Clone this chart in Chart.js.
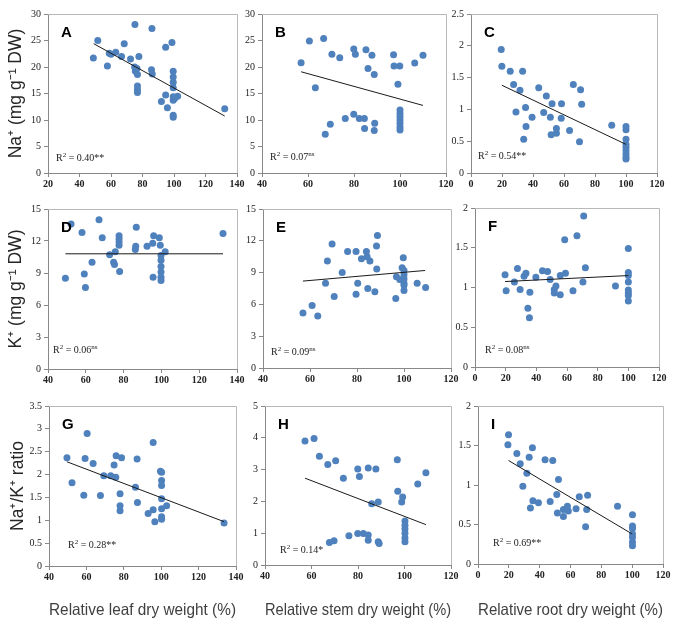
<!DOCTYPE html>
<html>
<head>
<meta charset="utf-8">
<script src="https://cdn.jsdelivr.net/npm/chart.js@4.4.1/dist/chart.umd.min.js"></script>
<style>
  html, body { margin: 0; padding: 0; background: #fff; }
  #wrap { position: relative; width: 683px; height: 627px; overflow: hidden; }
  #wrap canvas { position: absolute; }
</style>
</head>
<body>
<div id="wrap"></div>
<script>
// Na+ content vs relative dry weight (leaf / stem / root)
const naLeaf = [[48.8,21.7],[51.6,25],[57.7,20.2],[58.9,22.6],[60,22.4],[63,22.8],[66.7,22],[68.4,24.4],[72.4,21.5],[75.2,28],[75,20],[75.5,19.2],[76.5,19.7],[77.7,22],[76.8,18.6],[76.8,16.4],[76.8,15.75],[76.8,15.2],[86,27.25],[85.7,19.5],[86.2,18.7],[92,13.5],[94.7,23.75],[94.7,14.7],[95.8,12.3],[98.7,24.6],[99.5,19.2],[99.5,18.1],[99.5,17.1],[99.5,16.1],[99.5,14.4],[99.5,13.75],[99.5,10.9],[99.5,10.5],[100.5,14.1],[102.3,14.5],[132.2,12.1]];
const naStem = [[57,20.8],[60.6,24.9],[63.2,16.1],[66.8,25.4],[67.5,7.3],[69.7,9.2],[70.4,22.4],[73.8,21.75],[76.2,10.3],[79.9,23.4],[79.9,11.1],[80.6,22.4],[82.3,10.3],[84.5,10.3],[84.6,8.4],[85.2,23.25],[86.1,19.7],[87.8,22.2],[88.8,18.6],[89,9.4],[88.8,8],[97.2,22.3],[97.4,20.2],[99.1,16.75],[99.9,20.2],[100,11.9],[100,11.2],[100,10.6],[100,10],[100,9.4],[100,8.7],[100,8.1],[106.4,20.75],[110,22.2]];
const naRoot = [[19.5,1.94],[19.9,1.68],[25.3,1.6],[27.5,1.39],[29,0.96],[31.6,1.3],[33.3,1.6],[34,0.53],[35.2,1.03],[35.5,0.73],[39.4,0.875],[43.7,1.34],[46.9,0.95],[48.6,1.21],[51.2,0.875],[52.3,1.09],[51.7,0.6],[55.1,0.7],[55.1,0.625],[58.2,0.86],[58.4,1.09],[63.6,0.67],[66,1.39],[70,0.49],[70.7,1.31],[71.4,1.08],[90.8,0.75],[100,0.73],[100,0.68],[100,0.53],[100,0.45],[100,0.4],[100,0.35],[100,0.3],[100,0.25],[100,0.22]];

// K+ content
const kLeaf = [[49.2,8.5],[52.2,13.6],[58,12.8],[59.2,8.9],[59.8,7.65],[63.3,10],[67,14],[68.7,12.3],[72.6,10.7],[74.7,10],[75.2,9.8],[75.6,11],[77.6,12.5],[77.6,12.2],[77.6,11.9],[77.6,11.6],[77.9,9.15],[86.2,11.2],[86.4,11.5],[86.7,13.3],[92.4,11.5],[95.4,11.8],[95.9,12.5],[95.6,8.6],[98.9,12.3],[99.4,11.6],[99.8,10.65],[99.8,10.2],[99.8,9.6],[99.8,9.1],[99.8,8.6],[99.8,8.3],[102,11],[132.6,12.7]];
const kStem = [[57,5.2],[60.9,5.9],[63.3,4.9],[66.6,8],[67.4,10.1],[69.4,11.7],[70.3,6.75],[73.7,9],[76,11],[79.6,11],[79.6,6.95],[80.3,8],[81.9,10.3],[84,11],[84.3,10.5],[84.6,7.5],[85.5,10.1],[87.6,7.2],[88.3,11.5],[88.7,12.5],[88.4,9.35],[96.5,6.55],[96.8,8.6],[98.2,8.35],[99.2,9.45],[99.7,10.4],[100,9.2],[100,8.8],[100,8.4],[100,8],[100,7.8],[100,7.3],[105.6,8],[109.2,7.6]];
const kRoot = [[19.6,1.16],[20.3,0.96],[25.7,1.07],[27.7,1.24],[29.4,0.975],[32,1.14],[33.2,1.18],[34.5,0.74],[35.5,0.62],[35.8,0.94],[39.7,1.13],[44,1.21],[47.3,1.2],[49,1.1],[51.7,0.975],[51.7,0.93],[52.8,1.02],[55.6,1.15],[55.6,0.91],[58.5,1.6],[59,1.18],[63.9,0.96],[66.5,1.65],[70.4,1.07],[70.9,1.9],[72,1.25],[91.6,1.02],[100,1.49],[100,1.19],[100,1.15],[100,1.07],[100,0.97],[100,0.93],[100,0.9],[100,0.83]];

// Na+/K+ ratio
const ratioLeaf = [[49.6,2.37],[52.3,1.82],[58.6,1.55],[59.3,2.35],[60.4,2.9],[63.6,2.24],[67.5,1.54],[69.3,1.975],[73,1.975],[74.8,2.21],[75.9,2.41],[75.7,1.94],[78,1.58],[78,1.32],[78,1.21],[78.8,2.37],[86.25,1.72],[87.1,2.34],[87.3,1.39],[93,1.15],[95.7,1.23],[95.7,2.7],[96.6,0.97],[99.6,2.07],[100.2,2.05],[100.2,1.87],[100.2,1.76],[100.2,1.47],[100.2,1.25],[100.2,1.08],[100.2,1.02],[102.9,1.32],[133.6,0.94]];
const ratioStem = [[57.2,3.9],[61.1,3.98],[63.4,3.42],[67,3.16],[67.7,0.71],[69.7,0.76],[70.4,3.28],[73.7,2.73],[76.1,0.92],[79.9,3.02],[79.9,0.99],[80.6,2.78],[82.3,0.99],[84.4,3.05],[84.4,0.94],[84.4,0.78],[85.9,1.93],[87.7,3.02],[88.7,1.98],[88.7,0.73],[89.1,0.68],[96.9,3.31],[97.1,2.32],[99.2,2.14],[98.8,1.98],[100.2,1.38],[100.2,1.25],[100.2,1.13],[100.2,1],[100.2,0.85],[100.2,0.73],[105.7,2.55],[109.2,2.9]];
const ratioRoot = [[19.4,1.51],[19.8,1.635],[25.2,1.4],[27.4,1.27],[29.1,0.985],[31.7,1.15],[33.2,1.35],[34,0.71],[35.3,1.47],[35.6,0.8],[39.2,0.775],[43.5,1.32],[46.8,0.79],[48.5,1.31],[51.1,0.88],[51.5,0.645],[52.2,1.07],[55.4,0.69],[55.4,0.6],[58,0.73],[58.6,0.67],[63.6,0.7],[65.7,0.85],[69.8,0.47],[70.5,0.69],[71.1,0.87],[90.5,0.73],[100.2,0.625],[100.2,0.48],[100.2,0.45],[100.2,0.38],[100.2,0.34],[100.2,0.28],[100.2,0.23]];

// linear trend lines (end points)
const trendLines = [
  [[49,24.4],[132.2,10.75]],
  [[57,19.1],[110,12.75]],
  [[19.9,1.38],[100,0.45]],
  [[49.2,10.8],[132.6,10.8]],
  [[57,8.2],[109,9.2]],
  [[19.6,1.075],[100,1.15]],
  [[49.6,2.28],[133.6,0.97]],
  [[57.2,2.73],[109.2,1.27]],
  [[19.8,1.31],[100,0.38]]
];

const panelLetters = ["A","B","C","D","E","F","G","H","I"];
const r2Values = ["0.40","0.07","0.54","0.06","0.09","0.08","0.28","0.14","0.69"];
const r2Signif = ["**","ns","**","ns","ns","ns","**","*","**"];

// axis ranges: [min, max, step]
const xRanges = [[20,140,20],[40,120,20],[0,120,20],[40,140,20],[40,120,20],[0,120,20],[40,140,20],[40,120,20],[0,120,20]];
const yRanges = [[0,30,5],[0,30,5],[0,2.5,0.5],[0,15,3],[0,15,3],[0,2,0.5],[0,3.5,0.5],[0,5,1],[0,2,0.5]];

const yTitles = ["Na\u207A (mg g\u207B\u00B9 DW)", "K\u207A (mg g\u207B\u00B9 DW)", "Na\u207A/K\u207A ratio"];
const xTitles = ["Relative leaf dry weight (%)", "Relative stem dry weight (%)", "Relative root dry weight (%)"];

const allPoints = [naLeaf, naStem, naRoot, kLeaf, kStem, kRoot, ratioLeaf, ratioStem, ratioRoot];

// plot-area rectangles on the page [left, top, right, bottom]
const plotRects = [
  [48,13,237,173],[262,13,446,173],[471,13,657,173],
  [48,208,237,369],[263,208,451,368],[475,207,659,367],
  [49,405,236,566],[265,405,451,565],[478,405,663,564]
];
// R² label offsets from plot-area left / bottom
const r2Offsets = [[8,12],[8,13],[7,14],[5,16],[8,13],[10,14],[19,18],[15,12],[15,18]];

const panelPlugin = {
  id: "panelText",
  beforeDatasetsDraw(chart) {
    const { ctx, chartArea: a } = chart;
    ctx.save();
    ctx.strokeStyle = "#b8b8b8";
    ctx.lineWidth = 1;
    ctx.beginPath();
    ctx.moveTo(a.left, a.top + 0.5);
    ctx.lineTo(a.right + 0.5, a.top + 0.5);
    ctx.lineTo(a.right + 0.5, a.bottom);
    ctx.stroke();
    ctx.restore();
  },
  afterDraw(chart, args, opts) {
    const { ctx, chartArea: a } = chart;
    ctx.save();
    ctx.fillStyle = "#000";
    ctx.textBaseline = "alphabetic";
    ctx.textAlign = "left";
    ctx.font = "bold 15px 'Liberation Sans', Arial, sans-serif";
    ctx.fillText(opts.letter, a.left + 13, a.top + 23);

    // R² = value + significance
    const big = "10px 'Liberation Serif', serif";
    const small = "7px 'Liberation Serif', serif";
    let x = a.left + opts.dx;
    const y = a.bottom - opts.dy;
    ctx.fillStyle = "#222";
    ctx.font = big;
    ctx.fillText("R", x, y); x += ctx.measureText("R").width;
    ctx.font = small;
    ctx.fillText("2", x, y - 4); x += ctx.measureText("2").width;
    ctx.font = big;
    const t = " = " + opts.r2;
    ctx.fillText(t, x, y); x += ctx.measureText(t).width;
    if (opts.sig === "ns") {
      ctx.font = small;
      ctx.fillText(opts.sig, x, y - 4);
    } else {
      ctx.fillText(opts.sig, x, y);
    }
    ctx.restore();
  }
};

// Excel-style general number format: 1 not 1.0
const plainNum = (v) => String(Math.round(v * 100) / 100);

const wrap = document.getElementById("wrap");

allPoints.forEach((pts, i) => {
  const col = i % 3, row = Math.floor(i / 3);
  const [L, T, R, B] = plotRects[i];
  const padL = col === 0 ? L : 24;
  const padT = 8, padR = 12;
  const padB = row === 2 ? 627 - B : 20;
  const w = (R - L) + padL + padR;
  const h = (B - T) + padT + padB;

  const cv = document.createElement("canvas");
  cv.width = w; cv.height = h;
  cv.style.left = (L - padL) + "px";
  cv.style.top = (T - padT) + "px";
  cv.style.width = w + "px";
  cv.style.height = h + "px";
  wrap.appendChild(cv);

  const [xmin, xmax, xstep] = xRanges[i];
  const [ymin, ymax, ystep] = yRanges[i];

  new Chart(cv, {
    type: "scatter",
    data: {
      datasets: [
        {
          data: pts.map(([x, y]) => ({ x, y })),
          backgroundColor: "#4F81BD",
          borderWidth: 0,
          pointRadius: 3.5,
          order: 1
        },
        {
          type: "line",
          data: trendLines[i].map(([x, y]) => ({ x, y })),
          borderColor: "#1a1a1a",
          borderWidth: 1,
          pointRadius: 0,
          fill: false,
          order: 0
        }
      ]
    },
    options: {
      responsive: false,
      animation: false,
      devicePixelRatio: 1,
      layout: { padding: { left: 0, top: padT, right: padR, bottom: 0 } },
      plugins: {
        legend: { display: false },
        tooltip: { enabled: false },
        panelText: {
          letter: panelLetters[i],
          r2: r2Values[i],
          sig: r2Signif[i],
          dx: r2Offsets[i][0],
          dy: r2Offsets[i][1]
        }
      },
      scales: {
        x: {
          type: "linear",
          min: xmin, max: xmax,
          ticks: {
            stepSize: xstep, autoSkip: false, maxRotation: 0, padding: 1,
            color: "#222",
            callback: plainNum,
            font: { family: "'Liberation Serif', serif", size: 10, weight: "bold" }
          },
          grid: { drawOnChartArea: false, tickLength: 4, color: "#888" },
          border: { color: "#888" },
          title: {
            display: row === 2,
            text: xTitles[col],
            color: "#404040",
            font: { family: "'Liberation Sans', Arial, sans-serif", size: 16.5 },
            padding: { top: 0, bottom: 7 }
          },
          afterFit: (s) => { s.height = padB; }
        },
        y: {
          min: ymin, max: ymax,
          ticks: {
            stepSize: ystep, autoSkip: false, padding: 3,
            color: "#222",
            callback: plainNum,
            font: { family: "'Liberation Serif', serif", size: 10 }
          },
          grid: { drawOnChartArea: false, tickLength: 4, color: "#888" },
          border: { color: "#888" },
          title: {
            display: col === 0,
            text: yTitles[row],
            color: "#262626",
            font: { family: "'Liberation Sans', Arial, sans-serif", size: 17.5 },
            padding: { top: row === 2 ? 8 : 6, bottom: 0 }
          },
          afterFit: (s) => { s.width = padL; }
        }
      }
    },
    plugins: [panelPlugin]
  });
});
</script>
</body>
</html>
